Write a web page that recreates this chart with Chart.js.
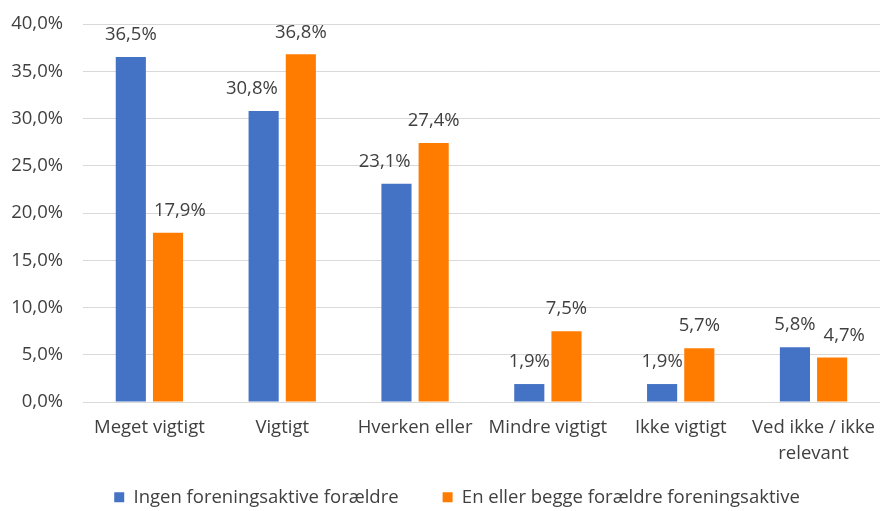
<!DOCTYPE html>
<html>
<head>
<meta charset="utf-8">
<script src="https://cdn.jsdelivr.net/npm/chart.js@4"></script>
<style>
  html, body { margin: 0; padding: 0; background: #fff; }
  #wrap { width: 880px; height: 511px; }
</style>
</head>
<body>
<div id="wrap"><canvas id="c" width="880" height="511"></canvas></div>
<script>
const categories = ['Meget vigtigt', 'Vigtigt', 'Hverken eller', 'Mindre vigtigt', 'Ikke vigtigt', ['Ved ikke / ikke', 'relevant']];
const seriesNames = ['Ingen foreningsaktive forældre', 'En eller begge forældre foreningsaktive'];
const ingenAktive = [36.5, 30.8, 23.1, 1.9, 1.9, 5.8];
const enEllerBegge = [17.9, 36.8, 27.4, 7.5, 5.7, 4.7];
const yTicks = [0, 5, 10, 15, 20, 25, 30, 35, 40];

const FONT = '"Open Sans", "Liberation Sans", sans-serif';
const FS = 18.5;
const TEXT = '#404040';
const pct = v => v.toFixed(1).replace('.', ',') + '%';

// Writes each bar's value above its top. A label that would run into the
// taller neighbouring bar, or into that bar's own label, is slid sideways.
const valueLabels = {
  id: 'valueLabels',
  afterDatasetsDraw(chart) {
    const ctx = chart.ctx;
    const lift = 22;
    const gap = 8;
    ctx.save();
    ctx.font = FS + 'px ' + FONT;
    ctx.fillStyle = TEXT;
    ctx.textAlign = 'center';
    ctx.textBaseline = 'middle';
    const metas = chart.data.datasets.map((_, i) => chart.getDatasetMeta(i));
    chart.data.datasets.forEach((ds, i) => {
      metas[i].data.forEach((bar, j) => {
        const txt = pct(ds.data[j]);
        const w = ctx.measureText(txt).width;
        const cy = bar.y - lift;
        let cx = bar.x;
        const other = metas[1 - i] && metas[1 - i].data[j];
        // only the lower of the two bars gives way
        if (other && other.y < bar.y && other.y < cy + FS) {
          const otherTxt = pct(chart.data.datasets[1 - i].data[j]);
          const ow = ctx.measureText(otherTxt).width;
          const oy = other.y - lift;
          const labelsMeet = Math.abs(oy - cy) < FS;
          if (other.x > bar.x) {
            let edge = other.x - other.width / 2;
            if (labelsMeet) edge = Math.min(edge, other.x - ow / 2);
            const overlap = (cx + w / 2) - edge;
            if (overlap > 0) cx -= overlap + gap;
          } else {
            let edge = other.x + other.width / 2;
            if (labelsMeet) edge = Math.max(edge, other.x + ow / 2);
            const overlap = edge - (cx - w / 2);
            if (overlap > 0) cx += overlap + gap;
          }
        }
        ctx.fillText(txt, cx, cy);
      });
    });
    ctx.restore();
  }
};

// Legend sits a little right of centre with wide gaps between entries,
// while taking only a short strip at the bottom of the canvas.
const legendTweak = {
  id: 'legendTweak',
  afterInit(chart) {
    const lg = chart.legend;
    if (!lg) return;
    const fit = lg.fit.bind(lg);
    lg.fit = function () { fit(); this.height = 45; };
    const draw = lg.draw.bind(lg);
    lg.draw = function () {
      const t = this.top, l = this.left, r = this.right;
      this.top = t - 22; this.left = l + 17; this.right = r + 17;
      draw();
      this.top = t; this.left = l; this.right = r;
    };
  }
};

new Chart(document.getElementById('c'), {
  type: 'bar',
  data: {
    labels: categories,
    datasets: [
      { label: seriesNames[0], data: ingenAktive, backgroundColor: '#4472C4' },
      { label: seriesNames[1], data: enEllerBegge, backgroundColor: '#FF7C00' }
    ]
  },
  options: {
    responsive: false,
    animation: false,
    devicePixelRatio: 1,
    layout: { padding: { top: 24, right: 0, left: 0, bottom: 0 } },
    datasets: { bar: { categoryPercentage: 0.56, barPercentage: 0.81 } },
    plugins: {
      legend: {
        position: 'bottom',
        labels: {
          font: { family: FONT, size: FS },
          color: TEXT,
          boxWidth: 10,
          boxHeight: 10,
          padding: 44
        }
      },
      tooltip: { enabled: false }
    },
    scales: {
      x: {
        grid: { display: false },
        border: { color: '#d9d9d9' },
        ticks: {
          font: { family: FONT, size: FS, lineHeight: 1.4 },
          color: TEXT,
          maxRotation: 0,
          autoSkip: false,
          padding: 5
        },
        afterFit(scale) { scale.height = 64; }
      },
      y: {
        min: 0,
        max: 40,
        afterBuildTicks(scale) { scale.ticks = yTicks.map(v => ({ value: v })); },
        grid: { color: '#d9d9d9', drawTicks: false },
        border: { display: false },
        ticks: {
          font: { family: FONT, size: FS },
          color: TEXT,
          padding: 20,
          callback: v => pct(v)
        },
        afterFit(scale) {
          scale.width = 83;
          scale.paddingTop = 0;
          scale.paddingBottom = 0;
        }
      }
    }
  },
  plugins: [valueLabels, legendTweak]
});
</script>
</body>
</html>
